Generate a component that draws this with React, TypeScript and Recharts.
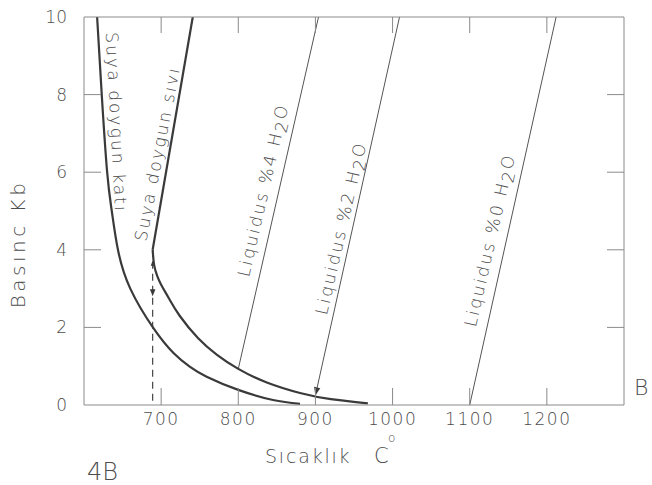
import React from 'react';
import { ComposedChart, Line, XAxis, YAxis, Scatter } from 'recharts';

// ---- data (temperature °C, pressure kb) ----
const xTicks = [700, 800, 900, 1000, 1100, 1200];
const yTicks = [0, 2, 4, 6, 8, 10];

// Suya doygun katı (water-saturated solidus)
const solidusWet = [
  { t: 617, p: 10 },
  { t: 623, p: 8 },
  { t: 630, p: 6 },
  { t: 636, p: 5 },
  { t: 644, p: 4 },
  { t: 660, p: 3 },
  { t: 690, p: 1.98 },
  { t: 716, p: 1.34 },
  { t: 737, p: 0.99 },
  { t: 759, p: 0.73 },
  { t: 800, p: 0.39 },
  { t: 845, p: 0.13 },
  { t: 880, p: 0.03 },
];

// Suya doygun sıvı (water-saturated liquidus) – upper straight branch
const liquidusWetUpper = [
  { t: 741, p: 10 },
  { t: 689, p: 4 },
];

// Suya doygun sıvı – lower curved branch
const liquidusWetLower = [
  { t: 689, p: 4 },
  { t: 691, p: 3.6 },
  { t: 695, p: 3.32 },
  { t: 700, p: 3.1 },
  { t: 710, p: 2.75 },
  { t: 724, p: 2.3 },
  { t: 748, p: 1.72 },
  { t: 772, p: 1.3 },
  { t: 800, p: 0.93 },
  { t: 837, p: 0.58 },
  { t: 880, p: 0.31 },
  { t: 920, p: 0.15 },
  { t: 968, p: 0.04 },
];

const liquidus4 = [
  { t: 800, p: 0.93 },
  { t: 904, p: 10 },
];
const liquidus2 = [
  { t: 900, p: 0.25 },
  { t: 1009, p: 10 },
];
const liquidus0 = [
  { t: 1100, p: 0 },
  { t: 1212, p: 10 },
];

const dashedDrop = [
  { t: 689, p: 4 },
  { t: 689, p: 0 },
];

const arrowHeads = [
  { t: 689, p: 2.8, angle: 90, size: 7 },
  { t: 689, p: 3.72, angle: -90, size: 5 },
  { t: 900, p: 0.25, angle: 102.6, size: 8 },
];

const curveLabels = [
  { t: 642, p: 7.28, angle: 87, text: 'Suya doygun katı' },
  { t: 695, p: 6.48, angle: -79, text: 'Suya doygun sıvı' },
  { t: 832, p: 5.54, angle: -77, text: 'Liquidus %4 H2O' },
  { t: 933, p: 4.56, angle: -77, text: 'Liquidus %2 H2O' },
  { t: 1126, p: 4.25, angle: -77, text: 'Liquidus %0 H2O' },
];

// ---- styles ----
const FONT = '"DejaVu Sans", sans-serif';
const AXIS = '#8a8a8a';
const INK = '#3a3a3a';
const TEXT = '#4d4d4d';

const LeftTick = (props: any) => {
  const { x, y, payload } = props;
  const v = payload.value;
  return (
    <g>
      {v !== 0 && v !== 10 && <line x1={x} y1={y} x2={x + 17} y2={y} stroke={AXIS} strokeWidth={1} />}
      <text x={x - 17} y={y} textAnchor="end" dominantBaseline="central" fontFamily={FONT} fontSize={17} fontWeight={300} fill={TEXT}>
        {v}
      </text>
    </g>
  );
};

const RightTick = (props: any) => {
  const { x, y, payload } = props;
  const v = payload.value;
  if (v === 0 || v === 10) return <g />;
  return <line x1={x} y1={y} x2={x - 17} y2={y} stroke={AXIS} strokeWidth={1} />;
};

const BottomTick = (props: any) => {
  const { x, y, payload } = props;
  return (
    <g>
      <line x1={x} y1={y} x2={x} y2={y - 17} stroke={AXIS} strokeWidth={1} />
      <text x={x} y={y + 14} textAnchor="middle" dominantBaseline="central" fontFamily={FONT} fontSize={17} fontWeight={300} letterSpacing={1.5} fill={TEXT}>
        {payload.value}
      </text>
    </g>
  );
};

const TopTick = (props: any) => {
  const { x, y } = props;
  return <line x1={x} y1={y} x2={x} y2={y + 16} stroke={AXIS} strokeWidth={1} />;
};

const LabelShape = (props: any) => {
  const { cx, cy, payload } = props;
  const text: string = payload.text;
  const idx = text.indexOf('H2O');
  return (
    <text
      transform={`translate(${cx},${cy}) rotate(${payload.angle})`}
      textAnchor="middle"
      dominantBaseline="central"
      fontFamily={FONT}
      fontSize={17}
      fontWeight={300}
      letterSpacing={2.1}
      fill={TEXT}
    >
      {idx >= 0 ? (
        <>
          {text.slice(0, idx) + 'H'}
          <tspan dy={4}>2</tspan>
          <tspan dy={-4}>O</tspan>
        </>
      ) : (
        text
      )}
    </text>
  );
};

const ArrowShape = (props: any) => {
  const { cx, cy, payload } = props;
  const s = payload.size;
  return (
    <path
      transform={`translate(${cx},${cy}) rotate(${payload.angle})`}
      d={`M0,0 L${-s},${-s * 0.4} L${-s},${s * 0.4} Z`}
      fill={INK}
    />
  );
};

export default function App() {
  return (
    <div style={{ position: 'absolute', left: 0, top: 0, width: 652, height: 485, background: '#fff' }}>
      <ComposedChart width={652} height={485} margin={{ top: 0, right: 0, bottom: 0, left: 0 }}>
        <XAxis
          dataKey="t"
          type="number"
          domain={[600, 1300]}
          ticks={xTicks}
          allowDataOverflow
          height={80}
          tickSize={0}
          tickMargin={0}
          tickLine={false}
          axisLine={{ stroke: AXIS, strokeWidth: 1 }}
          tick={<BottomTick />}
          interval={0}
        />
        <XAxis
          xAxisId="top"
          orientation="top"
          dataKey="t"
          type="number"
          domain={[600, 1300]}
          ticks={xTicks}
          allowDataOverflow
          height={17}
          tickSize={0}
          tickMargin={0}
          tickLine={false}
          axisLine={{ stroke: AXIS, strokeWidth: 1 }}
          tick={<TopTick />}
          interval={0}
        />
        <YAxis
          type="number"
          domain={[0, 10]}
          ticks={yTicks}
          allowDataOverflow
          width={84}
          tickSize={0}
          tickMargin={0}
          tickLine={false}
          axisLine={{ stroke: AXIS, strokeWidth: 1 }}
          tick={<LeftTick />}
          interval={0}
        />
        <YAxis
          yAxisId="right"
          orientation="right"
          type="number"
          domain={[0, 10]}
          ticks={yTicks}
          allowDataOverflow
          width={28}
          tickSize={0}
          tickMargin={0}
          tickLine={false}
          axisLine={{ stroke: AXIS, strokeWidth: 1 }}
          tick={<RightTick />}
          interval={0}
        />

        <Line data={liquidus4} dataKey="p" type="linear" stroke="#555" strokeWidth={1} dot={false} isAnimationActive={false} />
        <Line data={liquidus2} dataKey="p" type="linear" stroke="#555" strokeWidth={1} dot={false} isAnimationActive={false} />
        <Line data={liquidus0} dataKey="p" type="linear" stroke="#555" strokeWidth={1} dot={false} isAnimationActive={false} />
        <Line data={dashedDrop} dataKey="p" type="linear" stroke="#444" strokeWidth={1.2} strokeDasharray="7 5" dot={false} isAnimationActive={false} />
        <Line data={solidusWet} dataKey="p" type="natural" stroke={INK} strokeWidth={2.2} dot={false} isAnimationActive={false} />
        <Line data={liquidusWetUpper} dataKey="p" type="linear" stroke={INK} strokeWidth={2.2} dot={false} isAnimationActive={false} />
        <Line data={liquidusWetLower} dataKey="p" type="natural" stroke={INK} strokeWidth={2.2} dot={false} isAnimationActive={false} />

        <Scatter data={arrowHeads} dataKey="p" shape={<ArrowShape />} isAnimationActive={false} />
        <Scatter data={curveLabels} dataKey="p" shape={<LabelShape />} isAnimationActive={false} />
      </ComposedChart>

      <svg width={652} height={485} style={{ position: 'absolute', left: 0, top: 0, pointerEvents: 'none' }}>
        <text
          transform="translate(18,244) rotate(-90)"
          textAnchor="middle"
          dominantBaseline="central"
          fontFamily={FONT}
          fontSize={20}
          fontWeight={300}
          letterSpacing={3.5}
          fill={TEXT}
        >
          Basınc  Kb
        </text>
        <text x={265} y={463} fontFamily={FONT} fontSize={19} fontWeight={300} letterSpacing={1.8} fill={TEXT}>
          Sıcaklık
        </text>
        <text x={374} y={463} fontFamily={FONT} fontSize={21} fontWeight={300} fill={TEXT}>
          C
        </text>
        <text x={388} y={442} fontFamily={FONT} fontSize={12} fontWeight={300} fill={TEXT}>
          o
        </text>
        <text x={87} y={480} fontFamily={FONT} fontSize={24} fontWeight={300} fill={TEXT}>
          4B
        </text>
        <text x={634} y={395} fontFamily={FONT} fontSize={22} fontWeight={300} fill={TEXT}>
          B
        </text>
      </svg>
    </div>
  );
}
